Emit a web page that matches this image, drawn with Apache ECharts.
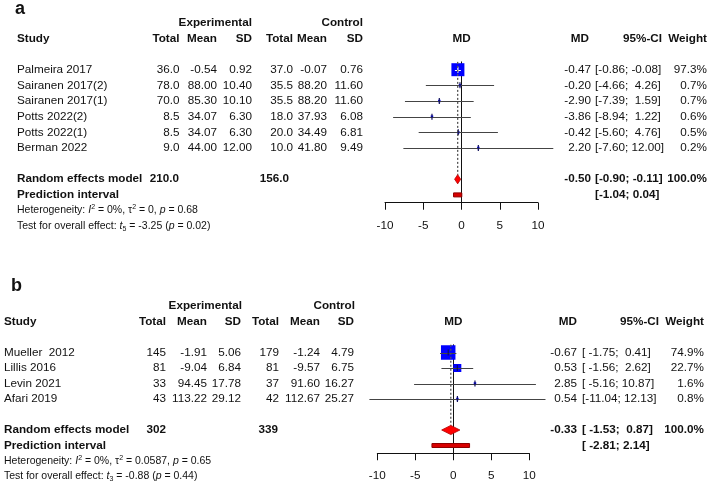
<!DOCTYPE html>
<html><head><meta charset="utf-8">
<script src="https://cdn.jsdelivr.net/npm/echarts@6/dist/echarts.min.js"></script>
<style>html,body{margin:0;padding:0;background:#fff}#c{width:710px;height:485px}</style>
</head><body><div id="c"></div>
<script>
// ---------------- Panel a data ----------------
const studiesA = ['Palmeira 2017','Sairanen 2017(2)','Sairanen 2017(1)','Potts 2022(2)','Potts 2022(1)','Berman 2022'];
const expTotalA = [36.0, 78.0, 70.0, 8.5, 8.5, 9.0];
const expMeanA = [-0.54, 88.00, 85.30, 34.07, 34.07, 44.00];
const expSDA = [0.92, 10.40, 10.10, 6.30, 6.30, 12.00];
const ctrlTotalA = [37.0, 35.5, 35.5, 18.0, 20.0, 10.0];
const ctrlMeanA = [-0.07, 88.20, 88.20, 37.93, 34.49, 41.80];
const ctrlSDA = [0.76, 11.60, 11.60, 6.08, 6.81, 9.49];
const mdA = [-0.47, -0.20, -2.90, -3.86, -0.42, 2.20];
const lowerA = [-0.86, -4.66, -7.39, -8.94, -5.60, -7.60];
const upperA = [-0.08, 4.26, 1.59, 1.22, 4.76, 12.00];
const weightA = [97.3, 0.7, 0.7, 0.6, 0.5, 0.2];
const totalsA = [210.0, 156.0];
const pooledA = [-0.50, -0.90, -0.11];
const predA = [-1.04, 0.04];
const hetA = ['0%', '0', '0.68'];
const testA = ['5', '-3.25', '0.02'];

// ---------------- Panel b data ----------------
const studiesB = ['Mueller  2012','Lillis 2016','Levin 2021','Afari 2019'];
const expTotalB = [145, 81, 33, 43];
const expMeanB = [-1.91, -9.04, 94.45, 113.22];
const expSDB = [5.06, 6.84, 17.78, 29.12];
const ctrlTotalB = [179, 81, 37, 42];
const ctrlMeanB = [-1.24, -9.57, 91.60, 112.67];
const ctrlSDB = [4.79, 6.75, 16.27, 25.27];
const mdB = [-0.67, 0.53, 2.85, 0.54];
const lowerB = [-1.75, -1.56, -5.16, -11.04];
const upperB = [0.41, 2.62, 10.87, 12.13];
const weightB = [74.9, 22.7, 1.6, 0.8];
const totalsB = [302, 339];
const pooledB = [-0.33, -1.53, 0.87];
const predB = [-2.81, 2.14];
const hetB = ['0%', '0.0587', '0.65'];
const testB = ['3', '-0.88', '0.44'];

const xTicks = [-10, 10, 5]; // min, max, interval

// ---------------- Layout ----------------
const FONT = '"Liberation Sans", Arial, sans-serif';
const FS = 11.7, FN = 10.5;
const LA = {rowPx:15.65, row0:69.7, left:385, width:153, rmin:-0.5, rmax:8.5, totDec:1, sq:13,
  c:{label:15, study:17, eT:179.5, eM:217, eS:252, cT:293, cM:327, cS:363, eTp:179, cTp:289,
     md:591, ci:595, w:707, hMD:589, hCI:662, hW:707, hE:252, hC:363, plotMD:461.5}, labelRow:-3.85, labelText:'a'};
const LB = {rowPx:15.5, row0:352.5, left:377.3, width:152, rmin:-0.5, rmax:6.5, totDec:0, sq:14.5,
  c:{label:11, study:4, eT:166, eM:207, eS:241, cT:279, cM:320, cS:354, eTp:166, cTp:278,
     md:577, ci:582, w:704, hMD:577, hCI:659, hW:704, hE:242, hC:355, plotMD:453.3}, labelRow:-4.3, labelText:'b'};

const richFN = {
  i:{fontStyle:'italic', fontSize:FN, fontFamily:FONT, lineHeight:13, fill:'#111'},
  sup:{fontSize:7, fontFamily:FONT, verticalAlign:'top', lineHeight:13, fill:'#111'},
  sub:{fontSize:7, fontFamily:FONT, verticalAlign:'bottom', lineHeight:13, fill:'#111'}
};

function padW(arr){ return Math.max.apply(null, arr.map(v=>v.toFixed(2).length)); }
function ci(lo, hi, wl, wh){ return '[' + lo.toFixed(2).padStart(wl) + '; ' + hi.toFixed(2).padStart(wh) + ']'; }

function buildRows(L, d){
  const c = L.c, rows = [];
  const B = true;
  rows.push({row:L.labelRow, items:[{x:c.label, text:L.labelText, bold:B, size:18}]});
  rows.push({row:-3, items:[{x:c.hE, text:'Experimental', bold:B, align:'right'},{x:c.hC, text:'Control', bold:B, align:'right'}]});
  rows.push({row:-2, items:[
    {x:c.study, text:'Study', bold:B},
    {x:c.eT, text:'Total', bold:B, align:'right'},{x:c.eM, text:'Mean', bold:B, align:'right'},{x:c.eS, text:'SD', bold:B, align:'right'},
    {x:c.cT, text:'Total', bold:B, align:'right'},{x:c.cM, text:'Mean', bold:B, align:'right'},{x:c.cS, text:'SD', bold:B, align:'right'},
    {x:c.plotMD, text:'MD', bold:B, align:'center'},
    {x:c.hMD, text:'MD', bold:B, align:'right'},{x:c.hCI, text:'95%-CI', bold:B, align:'right'},{x:c.hW, text:'Weight', bold:B, align:'right'}]});
  const wl = padW(d.lo), wh = padW(d.hi);
  d.names.forEach((n,i)=>{
    rows.push({row:i, items:[
      {x:c.study, text:n},
      {x:c.eT, text:d.eT[i].toFixed(L.totDec), align:'right'},
      {x:c.eM, text:d.eM[i].toFixed(2), align:'right'},
      {x:c.eS, text:d.eS[i].toFixed(2), align:'right'},
      {x:c.cT, text:d.cT[i].toFixed(L.totDec), align:'right'},
      {x:c.cM, text:d.cM[i].toFixed(2), align:'right'},
      {x:c.cS, text:d.cS[i].toFixed(2), align:'right'},
      {x:c.md, text:d.md[i].toFixed(2), align:'right'},
      {x:c.ci, text:ci(d.lo[i], d.hi[i], wl, wh)},
      {x:c.w, text:d.w[i].toFixed(1)+'%', align:'right'}]});
  });
  const n = d.names.length;
  rows.push({row:n+1, items:[
    {x:c.study, text:'Random effects model', bold:B},
    {x:c.eTp, text:d.tot[0].toFixed(L.totDec), bold:B, align:'right'},
    {x:c.cTp, text:d.tot[1].toFixed(L.totDec), bold:B, align:'right'},
    {x:c.md, text:d.pool[0].toFixed(2), bold:B, align:'right'},
    {x:c.ci, text:ci(d.pool[1], d.pool[2], wl, wh), bold:B},
    {x:c.w, text:'100.0%', bold:B, align:'right'}]});
  rows.push({row:n+2, items:[
    {x:c.study, text:'Prediction interval', bold:B},
    {x:c.ci, text:ci(d.pred[0], d.pred[1], wl, 1), bold:B}]});
  rows.push({row:n+3, items:[
    {x:c.study, size:FN, rich:richFN,
     text:'Heterogeneity: {i|I}{sup|2} = ' + d.het[0] + ', \u03c4{sup|2} = ' + d.het[1] + ', {i|p} = ' + d.het[2]}]});
  rows.push({row:n+4, items:[
    {x:c.study, size:FN, rich:richFN,
     text:'Test for overall effect: {i|t}{sub|' + d.test[0] + '} = ' + d.test[1] + ' ({i|p} = ' + d.test[2] + ')'}]});
  return rows;
}

const rowsA = buildRows(LA, {names:studiesA, eT:expTotalA, eM:expMeanA, eS:expSDA, cT:ctrlTotalA, cM:ctrlMeanA, cS:ctrlSDA,
  md:mdA, lo:lowerA, hi:upperA, w:weightA, tot:totalsA, pool:pooledA, pred:predA, het:hetA, test:testA});
const rowsB = buildRows(LB, {names:studiesB, eT:expTotalB, eM:expMeanB, eS:expSDB, cT:ctrlTotalB, cM:ctrlMeanB, cS:ctrlSDB,
  md:mdB, lo:lowerB, hi:upperB, w:weightB, tot:totalsB, pool:pooledB, pred:predB, het:hetB, test:testB});

function textRender(rows){
  return function(params, api){
    const r = rows[api.value(2)];
    const y = api.coord([0, api.value(1)])[1];
    return {type:'group', children: r.items.map(s => {
      const st = {text:s.text, fill:'#111', fontFamily:FONT, fontSize:s.size||FS,
        fontWeight:s.bold?'bold':'normal', align:s.align||'left', verticalAlign:'middle'};
      if (s.rich) { st.rich = s.rich; st.lineHeight = 13; }
      return {type:'text', x:s.x, y:y, silent:true, style:st};
    })};
  };
}

function studyRender(maxPx, wmax){
  return function(params, api){
    const md = api.value(0), row = api.value(1), lo = api.value(2), hi = api.value(3), w = api.value(4);
    const c = api.coord([md, row]);
    const pL = api.coord([lo, row]), pH = api.coord([hi, row]);
    const s = Math.max(maxPx*Math.sqrt(w/wmax), 2.5);
    const y = Math.round(c[1]) + 0.5;
    const inside = pL[0] >= c[0]-s/2 && pH[0] <= c[0]+s/2;
    return {type:'group', children:[
      {type:'rect', shape:{x:c[0]-s/2, y:c[1]-s/2, width:s, height:s}, style:{fill:'#0000ff'}},
      {type:'line', shape:{x1:pL[0], y1:y, x2:pH[0], y2:y}, style:{stroke:inside?'#ffffff':'#444', lineWidth:1}},
      {type:'line', shape:{x1:c[0], y1:c[1]-3, x2:c[0], y2:c[1]+3}, style:{stroke:inside?'#ffffff':'#10105a', lineWidth:1.2}}
    ]};
  };
}

function pooledRender(params, api){
  const md = api.value(0), row = api.value(1), lo = api.value(2), hi = api.value(3), top = api.value(4);
  const c = api.coord([md, row]), pL = api.coord([lo, row]), pH = api.coord([hi, row]), t = api.coord([md, top]);
  const h = 4.6;
  return {type:'group', children:[
    {type:'line', shape:{x1:c[0], y1:t[1], x2:c[0], y2:c[1]-h}, style:{stroke:'#555', lineWidth:1.3, lineDash:[2,2]}},
    {type:'polygon', shape:{points:[[pL[0],c[1]],[c[0],c[1]-h],[pH[0],c[1]],[c[0],c[1]+h]]}, style:{fill:'#ff0000', stroke:'#b00000', lineWidth:0.8}}
  ]};
}

function predRender(params, api){
  const lo = api.value(0), row = api.value(1), hi = api.value(2);
  const pL = api.coord([lo, row]), pH = api.coord([hi, row]);
  return {type:'rect', shape:{x:pL[0], y:pL[1]-2, width:pH[0]-pL[0], height:4}, style:{fill:'#d80000', stroke:'#900000', lineWidth:1}};
}

function gridOf(L){ return {left:L.left, width:L.width, top:L.row0 + L.rmin*L.rowPx, height:(L.rmax-L.rmin)*L.rowPx, containLabel:false, outerBoundsMode:'none'}; }
function xAx(g){ return {gridIndex:g, type:'value', min:xTicks[0], max:xTicks[1], interval:xTicks[2],
  axisLine:{onZero:false, lineStyle:{color:'#111', width:1}}, axisTick:{length:7, lineStyle:{color:'#111'}},
  axisLabel:{color:'#111', fontSize:FS, fontFamily:FONT, margin:17}, splitLine:{show:false}}; }
function yAx(g, L){ return {gridIndex:g, type:'value', inverse:true, min:L.rmin, max:L.rmax,
  axisLine:{show:true, onZero:true, lineStyle:{color:'#111', width:1}}, axisTick:{show:false}, axisLabel:{show:false}, splitLine:{show:false}}; }

function seriesFor(g, L, md, lo, hi, w, pool, pred, rows){
  const n = md.length;
  return [
    {type:'custom', xAxisIndex:g, yAxisIndex:g, clip:false, silent:true, z:2, encode:{x:0, y:1},
     renderItem:studyRender(L.sq, Math.max.apply(null, w)), data: md.map((m,i)=>[m, i, lo[i], hi[i], w[i]])},
    {type:'custom', xAxisIndex:g, yAxisIndex:g, clip:false, silent:true, z:3, encode:{x:0, y:1},
     renderItem:pooledRender, data:[[pool[0], n+1, pool[1], pool[2], L.rmin]]},
    {type:'custom', xAxisIndex:g, yAxisIndex:g, clip:false, silent:true, z:3, encode:{x:0, y:1},
     renderItem:predRender, data:[[pred[0], n+2, pred[1]]]},
    {type:'custom', xAxisIndex:g, yAxisIndex:g, clip:false, silent:true, z:4, encode:{x:0, y:1},
     renderItem:textRender(rows), data: rows.map((r,i)=>[0, r.row, i])}
  ];
}

const chart = echarts.init(document.getElementById('c'), null, {renderer:'canvas', width:710, height:485});
chart.setOption({
  animation:false,
  backgroundColor:'#ffffff',
  grid:[gridOf(LA), gridOf(LB)],
  xAxis:[xAx(0), xAx(1)],
  yAxis:[yAx(0, LA), yAx(1, LB)],
  series:[].concat(
    seriesFor(0, LA, mdA, lowerA, upperA, weightA, pooledA, predA, rowsA),
    seriesFor(1, LB, mdB, lowerB, upperB, weightB, pooledB, predB, rowsB))
});
</script></body></html>
